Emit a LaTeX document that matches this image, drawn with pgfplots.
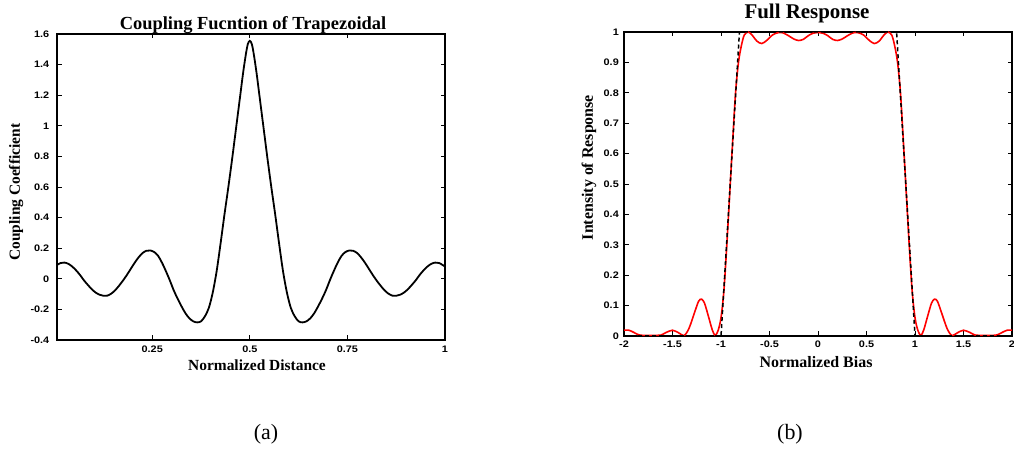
\documentclass[border=0pt]{standalone}
\usepackage{fontspec}
\setmainfont{Liberation Serif}
\newfontfamily\tickfont{Liberation Sans}[FakeStretch=1.15]
\usepackage{pgfplots}
\pgfplotsset{compat=1.18}

\pgfplotsset{
  myax/.style={
    scale only axis, clip=false,
    axis line style={line width=1.2bp, black},
    tick align=inside, major tick length=4.5bp,
    tick style={line width=0.8bp, black},
    xtick pos=both, ytick pos=both,
    ticklabel style={font=\tickfont\bfseries\fontsize{9.5}{10}\selectfont, inner sep=0pt},
  }
}

\begin{document}
\begin{tikzpicture}[x=1bp,y=1bp]
\useasboundingbox (0,0) rectangle (1014,449);

\begin{axis}[myax,
  at={(57bp,109bp)}, anchor=south west,
  width=388bp, height=306bp,
  xmin=0.006, xmax=1, ymin=-0.4, ymax=1.6,
  xtick={0.25,0.5,0.75,1}, xticklabels={0.25,0.5,0.75,1},
  ytick={-0.4,-0.2,0,0.2,0.4,0.6,0.8,1,1.2,1.4,1.6},
  yticklabels={-0.4,-0.2,0,0.2,0.4,0.6,0.8,1,1.2,1.4,1.6},
  xticklabel style={anchor=north, yshift=-5.7bp},
  yticklabel style={anchor=east, xshift=-7.5bp},
  title={Coupling Fucntion of Trapezoidal},
  title style={font=\bfseries\fontsize{18.5}{20}\selectfont, at={(axis description cs:0.5,1)}, anchor=base, yshift=-1bp, xshift=2bp, inner sep=0pt},
  xlabel={Normalized Distance},
  xlabel style={font=\bfseries\fontsize{15.5}{17}\selectfont, at={(axis description cs:0.5,0)}, anchor=base, yshift=-31bp, xshift=6bp, inner sep=0pt},
  ylabel={Coupling Coefficient},
  ylabel style={font=\bfseries\fontsize{15.5}{17}\selectfont, at={(axis description cs:-0.105,0.483)}, anchor=center, inner sep=0pt},
]
\addplot[black, line width=1.8bp, smooth] coordinates {
(0.006,0.090) (0.015,0.103) (0.025,0.106) (0.035,0.098) (0.045,0.080) (0.055,0.055)
(0.065,0.025) (0.075,-0.010) (0.085,-0.040) (0.095,-0.068) (0.105,-0.090) (0.115,-0.104)
(0.125,-0.111) (0.135,-0.110) (0.145,-0.097) (0.155,-0.075) (0.165,-0.045) (0.175,-0.012)
(0.185,0.025) (0.195,0.065) (0.205,0.105) (0.215,0.140) (0.225,0.168) (0.235,0.183)
(0.245,0.185) (0.255,0.175) (0.265,0.150) (0.275,0.105) (0.285,0.050) (0.295,-0.010)
(0.305,-0.075) (0.315,-0.130) (0.325,-0.180) (0.335,-0.225) (0.345,-0.258) (0.355,-0.278)
(0.365,-0.285) (0.375,-0.278) (0.385,-0.245) (0.395,-0.190) (0.405,-0.090) (0.415,0.050)
(0.425,0.230) (0.435,0.420) (0.445,0.600) (0.455,0.790) (0.465,0.990) (0.475,1.190)
(0.483,1.350) (0.490,1.470) (0.495,1.535) (0.500,1.555)
(0.505,1.535) (0.510,1.470) (0.517,1.350) (0.525,1.190) (0.535,0.990) (0.545,0.790)
(0.555,0.600) (0.565,0.420) (0.575,0.230) (0.585,0.050) (0.595,-0.090) (0.605,-0.190)
(0.615,-0.245) (0.625,-0.278) (0.635,-0.285) (0.645,-0.278) (0.655,-0.258) (0.665,-0.225)
(0.675,-0.180) (0.685,-0.130) (0.695,-0.075) (0.705,-0.010) (0.715,0.050) (0.725,0.105)
(0.735,0.150) (0.745,0.175) (0.755,0.185) (0.765,0.183) (0.775,0.168) (0.785,0.140)
(0.795,0.105) (0.805,0.065) (0.815,0.025) (0.825,-0.012) (0.835,-0.045) (0.845,-0.075)
(0.855,-0.097) (0.865,-0.110) (0.875,-0.111) (0.885,-0.104) (0.895,-0.090) (0.905,-0.068)
(0.915,-0.040) (0.925,-0.010) (0.935,0.025) (0.945,0.055) (0.955,0.080) (0.965,0.098)
(0.975,0.106) (0.985,0.103) (0.994,0.090) (1.000,0.080)
};
\end{axis}

\begin{axis}[myax,
  at={(624bp,113bp)}, anchor=south west,
  width=388bp, height=304bp,
  xmin=-2, xmax=2, ymin=0, ymax=1,
  xtick={-2,-1.5,-1,-0.5,0,0.5,1,1.5,2},
  xticklabels={-2,-1.5,-1,-0.5,0,0.5,1,1.5,2},
  ytick={0,0.1,0.2,0.3,0.4,0.5,0.6,0.7,0.8,0.9,1},
  yticklabels={0,0.1,0.2,0.3,0.4,0.5,0.6,0.7,0.8,0.9,1},
  xticklabel style={anchor=north, yshift=-5bp},
  yticklabel style={anchor=east, xshift=-5bp},
  title={Full Response},
  title style={font=\bfseries\fontsize{21}{22}\selectfont, at={(axis description cs:0.5,1)}, anchor=base, yshift=7.7bp, xshift=-11bp, inner sep=0pt},
  xlabel={Normalized Bias},
  xlabel style={font=\bfseries\fontsize{16}{17}\selectfont, at={(axis description cs:0.5,0)}, anchor=base, yshift=-32bp, xshift=-2bp, inner sep=0pt},
  ylabel={Intensity of Response},
  ylabel style={font=\bfseries\fontsize{16}{17}\selectfont, at={(axis description cs:-0.09,0.554)}, anchor=center, inner sep=0pt},
]
\addplot[red, line width=1.6bp, smooth] coordinates {
(-2.00,0.019) (-1.95,0.019) (-1.90,0.012) (-1.85,0.004) (-1.80,0.002) (-1.70,0.002)
(-1.62,0.003) (-1.57,0.011) (-1.50,0.019) (-1.44,0.011) (-1.38,0.002) (-1.33,0.025)
(-1.27,0.080) (-1.23,0.115) (-1.20,0.121) (-1.17,0.108) (-1.13,0.065) (-1.09,0.020)
(-1.06,0.002) (-1.03,0.018) (-1.00,0.060) (-0.97,0.150) (-0.94,0.300) (-0.91,0.470)
(-0.88,0.640) (-0.85,0.800) (-0.82,0.900) (-0.79,0.955) (-0.76,0.990) (-0.72,1.000)
(-0.68,0.990) (-0.63,0.970) (-0.58,0.962) (-0.53,0.972) (-0.47,0.990) (-0.41,0.998)
(-0.36,0.997) (-0.30,0.987) (-0.25,0.977) (-0.20,0.972) (-0.15,0.976) (-0.10,0.988)
(-0.05,0.996) (0.00,0.998)
(0.05,0.996) (0.10,0.988) (0.15,0.976) (0.20,0.972) (0.25,0.977) (0.30,0.987)
(0.36,0.997) (0.41,0.998) (0.47,0.990) (0.53,0.972) (0.58,0.962) (0.63,0.970)
(0.68,0.990) (0.72,1.000) (0.76,0.990) (0.79,0.955) (0.82,0.900) (0.85,0.800)
(0.88,0.640) (0.91,0.470) (0.94,0.300) (0.97,0.150) (1.00,0.060) (1.03,0.018)
(1.06,0.002) (1.09,0.020) (1.13,0.065) (1.17,0.108) (1.20,0.121) (1.23,0.115)
(1.27,0.080) (1.33,0.025) (1.38,0.002) (1.44,0.011) (1.50,0.019) (1.57,0.011)
(1.62,0.003) (1.70,0.002) (1.80,0.002) (1.85,0.004) (1.90,0.012) (1.95,0.019) (2.00,0.019)
};
\addplot[black, line width=1.5bp, dash pattern=on 4bp off 3bp] coordinates {
(-2,0) (-1,0) (-0.81,1) (0.81,1) (1,0) (2,0)
};
\end{axis}

\node[font=\fontsize{22}{24}\selectfont, anchor=base] at (266,9) {(a)};
\node[font=\fontsize{22}{24}\selectfont, anchor=base] at (790,9) {(b)};
\end{tikzpicture}
\end{document}
